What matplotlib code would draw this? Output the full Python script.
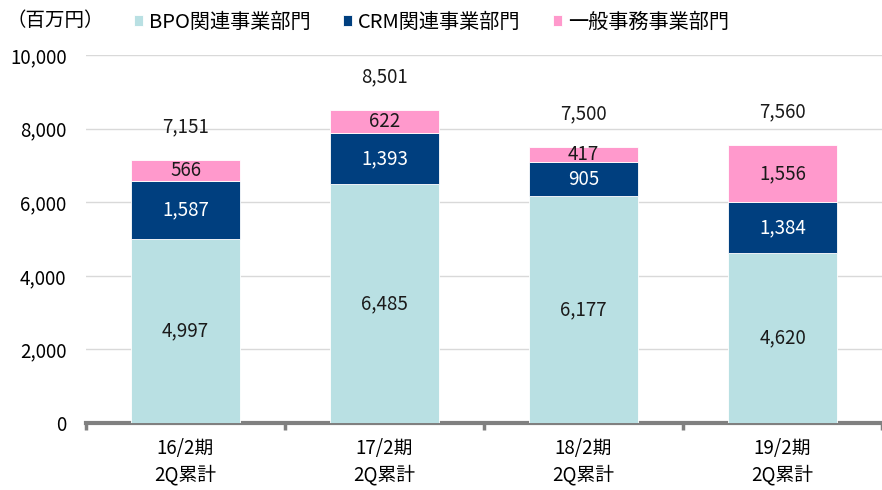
import numpy as np
import matplotlib.pyplot as plt

plt.rcParams["font.family"] = ["Noto Sans CJK JP", "DejaVu Sans"]

categories = ["16/2期\n2Q累計", "17/2期\n2Q累計", "18/2期\n2Q累計", "19/2期\n2Q累計"]
bpo = [4997, 6485, 6177, 4620]
crm = [1587, 1393, 905, 1384]
general = [566, 622, 417, 1556]
totals = [7151, 8501, 7500, 7560]
series_names = ["BPO関連事業部門", "CRM関連事業部門", "一般事務事業部門"]

colors = ["#B9E0E3", "#003F7F", "#FF99CC"]
label_colors = ["#1a1a1a", "white", "#1a1a1a"]
fs = 13.5

fig = plt.figure(figsize=(8.82, 4.90), dpi=100)
ax = fig.add_axes([86 / 882, 1 - 423 / 490, 1 - 86 / 882, (423 - 55) / 490])

x = np.arange(len(categories))
width = 0.55
bottom = np.zeros(len(categories))
handles = []
for vals, col, lc, name in zip([bpo, crm, general], colors, label_colors, series_names):
    vals = np.array(vals)
    b = ax.bar(x, vals, width, bottom=bottom, color=col, edgecolor="white",
               linewidth=0.6, zorder=3, label=name)
    handles.append(b)
    for xi, v, bt in zip(x, vals, bottom):
        ax.text(xi, bt + v / 2, f"{v:,}", ha="center", va="center",
                fontsize=fs, color=lc, zorder=4)
    bottom += vals

for xi, t in zip(x, totals):
    ax.text(xi, t + 900, f"{t:,}", ha="center", va="center", fontsize=fs,
            color="#1a1a1a")

ax.set_xlim(-0.5, -0.5 + (882 - 86) / 201)
ax.set_ylim(0, 10000)
ax.set_yticks(np.arange(0, 10001, 2000))
ax.set_yticklabels([f"{v:,}" for v in range(0, 10001, 2000)], fontsize=fs)
ax.yaxis.grid(True, color="#d9d9d9", linewidth=1, zorder=0)
ax.tick_params(axis="y", length=0, pad=14)

ax.set_xticks(x)
ax.set_xticklabels(categories, fontsize=fs, linespacing=1.35)
ax.set_xticks(np.arange(-0.5, 4, 1), minor=True)
ax.tick_params(axis="x", which="major", length=0, pad=11)
ax.tick_params(axis="x", which="minor", length=5, width=2.5, color="#808080")

for s in ["top", "right", "left"]:
    ax.spines[s].set_visible(False)
ax.spines["bottom"].set_color("#808080")
ax.spines["bottom"].set_linewidth(3)

fig.text(6 / 882, 1 - 20 / 490, "（百万円）", fontsize=14, va="center", ha="left")
fig.legend(handles=handles, loc="center left", bbox_to_anchor=(116 / 882, 1 - 22 / 490),
           ncol=3, frameon=False, fontsize=14.5, handlelength=0.45, handleheight=0.45,
           handletextpad=0.3, columnspacing=1.6)

fig.savefig("out.png", dpi=100)
